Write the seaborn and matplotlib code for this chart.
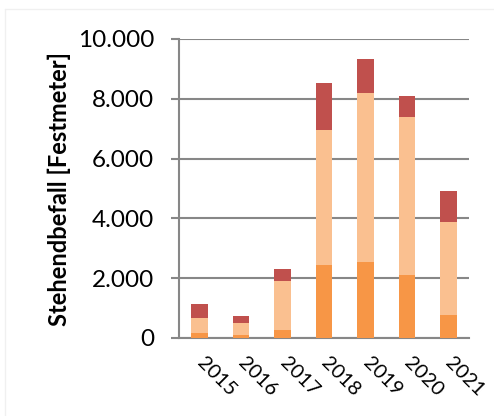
import numpy as np
import pandas as pd
import matplotlib
matplotlib.use("Agg")
import matplotlib.pyplot as plt
from matplotlib.ticker import FuncFormatter
from matplotlib.lines import Line2D
import seaborn as sns

# Stehendbefall per year, split into three stacked components (Festmeter)
years = ["2015", "2016", "2017", "2018", "2019", "2020", "2021"]
part_bottom = [170, 100, 280, 2450, 2550, 2100, 770]
part_middle = [510, 410, 1640, 4520, 5660, 5290, 3120]
part_top = [460, 225, 390, 1550, 1110, 710, 1020]

colors = {"bottom": "#F79646", "middle": "#FAC090", "top": "#C0504D"}

df = pd.DataFrame({
    "Jahr": years,
    "bottom": part_bottom,
    "middle": part_middle,
    "top": part_top,
})
df["cum_bottom"] = df["bottom"]
df["cum_middle"] = df["cum_bottom"] + df["middle"]
df["cum_top"] = df["cum_middle"] + df["top"]

sns.set_theme(style="white")
plt.rcParams["font.family"] = ["Lato", "DejaVu Sans"]

fig = plt.figure(figsize=(4.94, 4.16), dpi=100)
ax = fig.add_axes([179 / 494, 1 - 338 / 416, 290 / 494, 299 / 416])

# stacked bars drawn as overlaid cumulative totals
for key in ["top", "middle", "bottom"]:
    sns.barplot(data=df, x="Jahr", y=f"cum_{key}", color=colors[key],
                width=0.4, saturation=1, linewidth=0, ax=ax, zorder=3)

grid_c = "#878787"
ax.set_ylim(0, 10000)
ax.set_yticks(np.arange(0, 10001, 2000))
ax.yaxis.set_major_formatter(FuncFormatter(lambda v, p: f"{int(v):,}".replace(",", ".")))
ax.grid(axis="y", color=grid_c, linewidth=1.5, zorder=0)
ax.set_axisbelow(True)

for s in ["top", "right"]:
    ax.spines[s].set_visible(False)
for s in ["left", "bottom"]:
    ax.spines[s].set_color(grid_c)
    ax.spines[s].set_linewidth(1.5)

ax.tick_params(axis="y", length=6, width=1.5, color=grid_c, pad=12,
               labelsize=17.5, labelcolor="black", left=True)
ax.tick_params(axis="x", length=0, pad=16, labelsize=14.5, labelcolor="black")
plt.setp(ax.get_xticklabels(), rotation=-45, ha="left", va="center",
         rotation_mode="anchor")

ax.set_xlabel("")
ax.set_ylabel("Stehendbefall [Festmeter]", fontsize=17, fontweight="bold",
              color="black", labelpad=5)

# light chart-area frame
frame_c = "#F0F0F0"
fig.add_artist(Line2D([5 / 494, 5 / 494], [0, 1 - 9 / 416], color=frame_c,
                      linewidth=1, transform=fig.transFigure))
fig.add_artist(Line2D([5 / 494, 1], [1 - 9 / 416, 1 - 9 / 416], color=frame_c,
                      linewidth=1, transform=fig.transFigure))

fig.savefig("out.png", dpi=100)
